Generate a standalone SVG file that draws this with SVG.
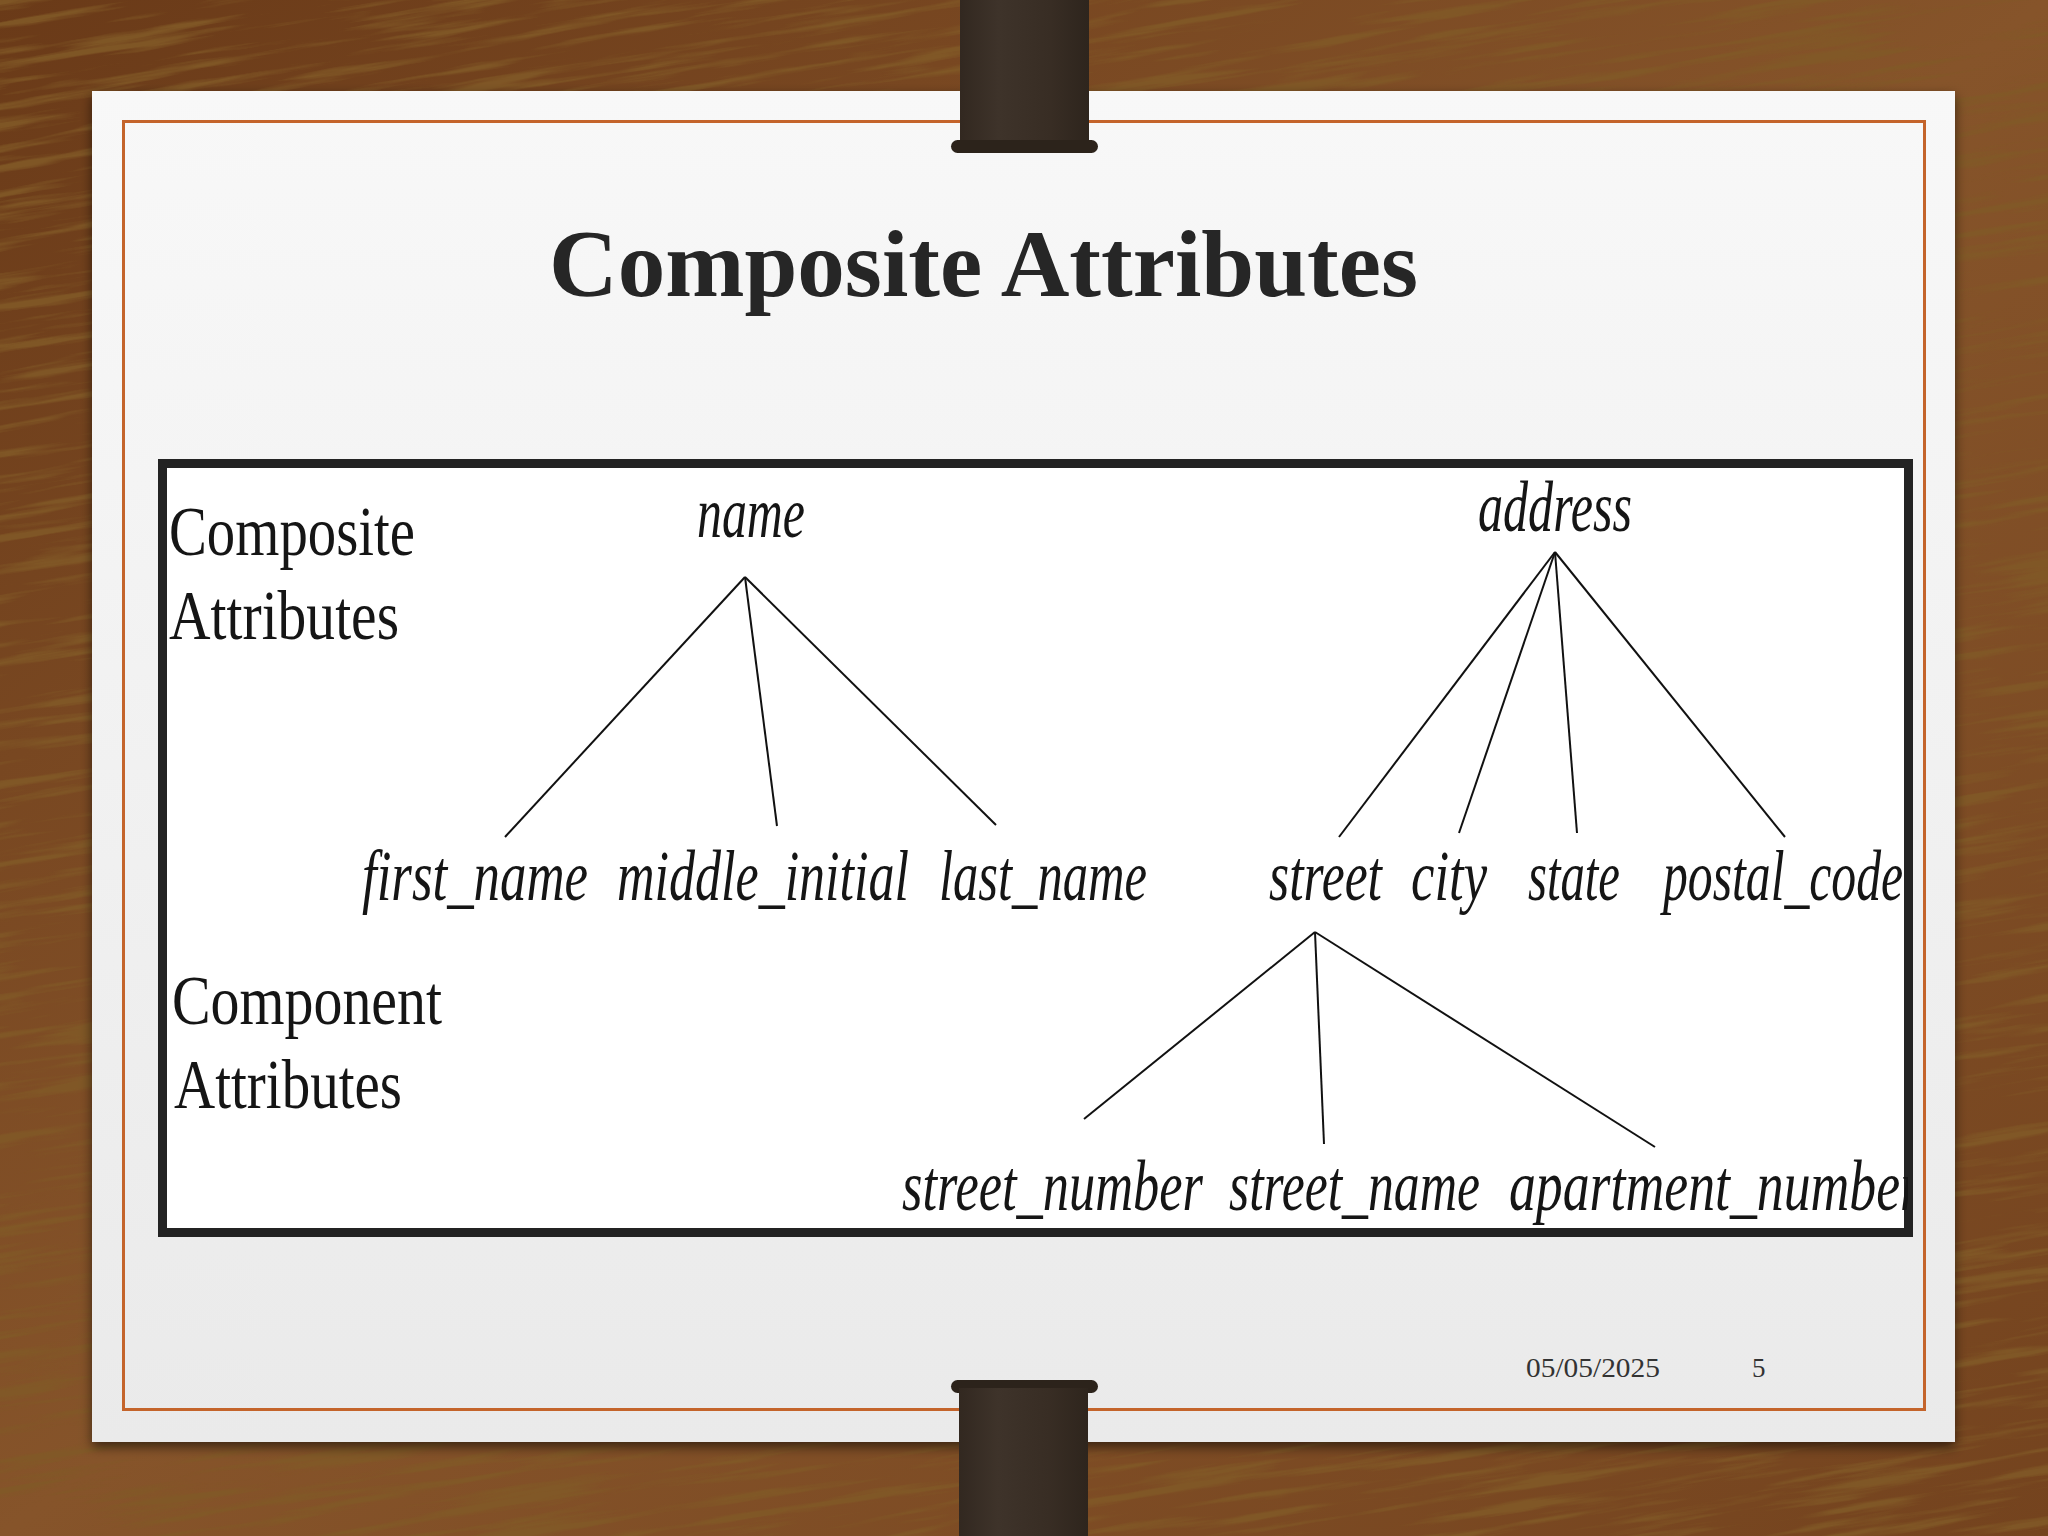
<svg xmlns="http://www.w3.org/2000/svg" width="2048" height="1536" viewBox="0 0 2048 1536">
<defs>
<linearGradient id="woodBase" x1="0" y1="0" x2="1" y2="1">
<stop offset="0" stop-color="#6a3a18"/>
<stop offset="0.5" stop-color="#86542a"/>
<stop offset="1" stop-color="#74431e"/>
</linearGradient>
<filter id="grain" x="0" y="0" width="100%" height="100%">
<feTurbulence type="fractalNoise" baseFrequency="0.006 0.1" numOctaves="4" seed="11"/>
<feColorMatrix type="matrix" values="0 0 0 0 0.22  0 0 0 0 0.10  0 0 0 0 0.02  4.2 0 0 0 -2.05"/>
</filter>
<linearGradient id="paperGrad" x1="0" y1="0" x2="0" y2="1">
<stop offset="0" stop-color="#f8f8f8"/>
<stop offset="1" stop-color="#eaeaea"/>
</linearGradient>
<filter id="shadow" x="-5%" y="-5%" width="110%" height="110%">
<feDropShadow dx="0" dy="5" stdDeviation="6" flood-color="#000" flood-opacity="0.55"/>
</filter>
<linearGradient id="strapGrad" x1="0" y1="0" x2="1" y2="0">
<stop offset="0" stop-color="#322820"/>
<stop offset="0.3" stop-color="#3e332a"/>
<stop offset="0.7" stop-color="#382d24"/>
<stop offset="1" stop-color="#2e251d"/>
</linearGradient>
<clipPath id="boxClip"><rect x="167" y="468" width="1741" height="764"/></clipPath>
<style>
.lbl{font-family:"Liberation Serif","Times New Roman",serif;font-size:70px;fill:#151515}
.it{font-family:"Liberation Serif","Times New Roman",serif;font-style:italic;font-size:72px;fill:#151515}
.edge{stroke:#111;stroke-width:2;fill:none}
.strap{fill:url(#strapGrad)}
.lip{fill:#2c231b}
.foot{font-family:"Liberation Serif","Times New Roman",serif;font-size:27px;fill:#333}
</style>
</defs>

<!-- wood background -->
<rect x="0" y="0" width="2048" height="1536" fill="url(#woodBase)"/>
<g transform="rotate(-9 1024 768)">
<rect x="-300" y="-300" width="2648" height="2136" filter="url(#grain)" opacity="0.9"/>
</g>

<!-- paper -->
<rect x="92" y="91" width="1863" height="1351" fill="url(#paperGrad)" filter="url(#shadow)"/>
<rect x="123.5" y="121.5" width="1801" height="1288" fill="none" stroke="#c4642b" stroke-width="3"/>

<!-- straps -->
<g id="strap-top">
<rect class="strap" x="960" y="0" width="129" height="150"/>
<rect class="lip" x="951" y="140" width="147" height="13" rx="6.5"/>
</g>
<g id="strap-bottom">
<rect class="lip" x="951" y="1380" width="147" height="13" rx="6.5"/>
<rect class="strap" x="959" y="1388" width="129" height="148"/>
</g>

<!-- title -->
<text id="title" x="549" y="296" textLength="869" lengthAdjust="spacingAndGlyphs" style="font-family:'Liberation Serif','Times New Roman',serif;font-weight:bold;font-size:95px;fill:#262626">Composite Attributes</text>

<!-- figure box -->
<rect x="162.5" y="463.5" width="1746" height="769" fill="#ffffff" stroke="#232323" stroke-width="9"/>

<g clip-path="url(#boxClip)">
<g id="legend">
<text class="lbl" transform="translate(169 555) scale(0.82 1)" textLength="300" lengthAdjust="spacingAndGlyphs">Composite</text>
<text class="lbl" transform="translate(169 639) scale(0.82 1)" textLength="280.5" lengthAdjust="spacingAndGlyphs">Attributes</text>
<text class="lbl" transform="translate(172 1024) scale(0.82 1)" textLength="329.3" lengthAdjust="spacingAndGlyphs">Component</text>
<text class="lbl" transform="translate(174 1108) scale(0.82 1)" textLength="278" lengthAdjust="spacingAndGlyphs">Attributes</text>
</g>

<g id="connectors">
<line class="edge" x1="745" y1="577" x2="505" y2="837"/>
<line class="edge" x1="745" y1="577" x2="777" y2="826"/>
<line class="edge" x1="745" y1="577" x2="996" y2="825"/>
<line class="edge" x1="1555" y1="552" x2="1339" y2="837"/>
<line class="edge" x1="1555" y1="552" x2="1459" y2="833"/>
<line class="edge" x1="1555" y1="552" x2="1577" y2="833"/>
<line class="edge" x1="1555" y1="552" x2="1785" y2="837"/>
<line class="edge" x1="1315" y1="932" x2="1084" y2="1119"/>
<line class="edge" x1="1315" y1="932" x2="1324" y2="1144"/>
<line class="edge" x1="1315" y1="932" x2="1655" y2="1147"/>
</g>

<g id="node-name"><text class="it" transform="translate(697 537) scale(0.7 1)" textLength="154.3" lengthAdjust="spacingAndGlyphs">name</text></g>
<g id="node-address"><text class="it" transform="translate(1478 531) scale(0.7 1)" textLength="220" lengthAdjust="spacingAndGlyphs">address</text></g>
<g id="node-first_name"><text class="it" transform="translate(362 900) scale(0.7 1)" textLength="322.9" lengthAdjust="spacingAndGlyphs">first_name</text></g>
<g id="node-middle_initial"><text class="it" transform="translate(617 900) scale(0.7 1)" textLength="417.1" lengthAdjust="spacingAndGlyphs">middle_initial</text></g>
<g id="node-last_name"><text class="it" transform="translate(939 900) scale(0.7 1)" textLength="297.1" lengthAdjust="spacingAndGlyphs">last_name</text></g>
<g id="node-street"><text class="it" transform="translate(1269 900) scale(0.7 1)" textLength="161.4" lengthAdjust="spacingAndGlyphs">street</text></g>
<g id="node-city"><text class="it" transform="translate(1411 900) scale(0.7 1)" textLength="108.6" lengthAdjust="spacingAndGlyphs">city</text></g>
<g id="node-state"><text class="it" transform="translate(1528 900) scale(0.7 1)" textLength="131.4" lengthAdjust="spacingAndGlyphs">state</text></g>
<g id="node-postal_code"><text class="it" transform="translate(1663 900) scale(0.7 1)" textLength="342.9" lengthAdjust="spacingAndGlyphs">postal_code</text></g>
<g id="node-street_number"><text class="it" transform="translate(902 1210) scale(0.7 1)" textLength="430" lengthAdjust="spacingAndGlyphs">street_number</text></g>
<g id="node-street_name"><text class="it" transform="translate(1229 1210) scale(0.7 1)" textLength="358.6" lengthAdjust="spacingAndGlyphs">street_name</text></g>
<g id="node-apartment_number"><text class="it" transform="translate(1509 1210) scale(0.7 1)" textLength="588.6" lengthAdjust="spacingAndGlyphs">apartment_number</text></g>
</g>

<!-- footer -->
<text class="foot" x="1526" y="1377" textLength="134" lengthAdjust="spacingAndGlyphs">05/05/2025</text>
<text class="foot" x="1752" y="1377">5</text>
</svg>
